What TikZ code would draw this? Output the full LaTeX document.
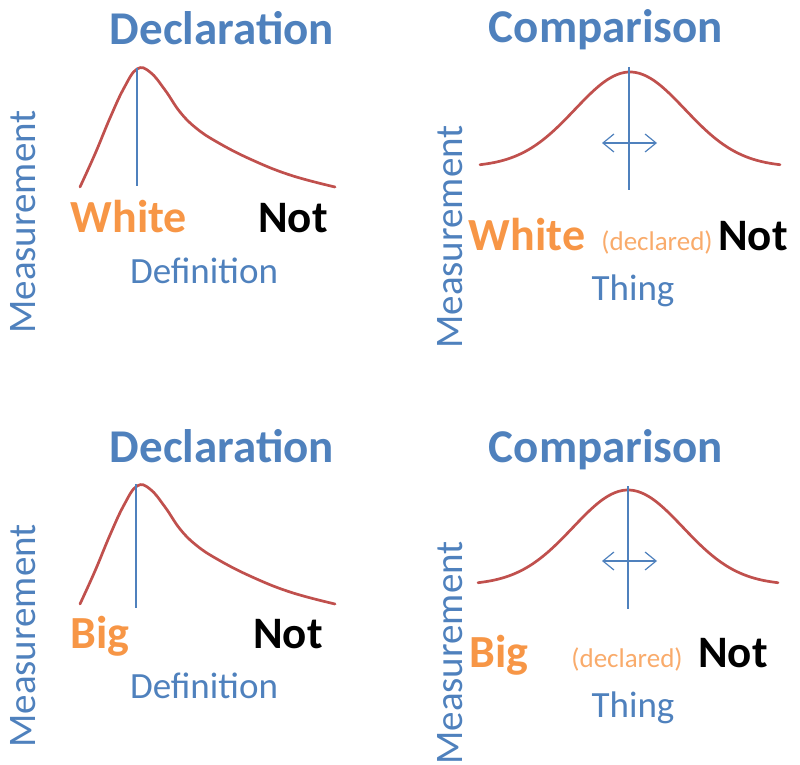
\documentclass[tikz,border=0pt]{standalone}
\usepackage{fontspec}
\setmainfont{Carlito}
\usepackage{tikz}
\usetikzlibrary{arrows.meta,positioning,calc}
\definecolor{ttl}{RGB}{79,129,189}
\definecolor{hue}{RGB}{247,150,70}
\definecolor{crv}{RGB}{192,80,77}
\tikzset{
  title/.style={text=ttl, font=\bfseries\fontsize{47}{50}\selectfont, inner sep=0pt, anchor=base},
  axis/.style={text=ttl, font=\fontsize{39}{42}\selectfont, inner sep=0pt, anchor=base, rotate=90},
  xlbl/.style={text=ttl, font=\fontsize{37}{40}\selectfont, inner sep=0pt, anchor=base},
  poslbl/.style={text=hue, font=\bfseries\fontsize{46}{48}\selectfont, inner sep=0pt, anchor=base},
  neglbl/.style={text=black, font=\bfseries\fontsize{45}{48}\selectfont, inner sep=0pt, anchor=base},
  note/.style={text=hue!80, font=\fontsize{27}{30}\selectfont, inner sep=0pt, anchor=base},
  curve/.style={draw=crv, line width=2.7pt, line join=round, line cap=round},
  vline/.style={draw=ttl, line width=1.1pt},
  spread/.style={draw=ttl, line width=1.2pt, {Straight Barb[length=11pt,width=18pt]}-{Straight Barb[length=11pt,width=18pt]}}
}

\begin{document}
\begin{tikzpicture}[x=1pt, y=-1pt]
    \useasboundingbox (0,0) rectangle (800,765);
    % top left
    \node[title] (t1) at (222,45) {Declaration};
    \draw[curve] plot[smooth, tension=0.7] coordinates {(80,187) (95,154) (110,118) (124,88) (137,69) (150,72) (165,90) (180,112) (196,128) (217,142) (250,159) (290,175) (335,187)};
    \coordinate (p1) at (137,68);
    \coordinate (f1) at (137,186);
    \draw[vline] (p1) -- (f1);
    \node[poslbl] (w1) at (129,232) {White};
    \node[neglbl] (n1) at (293,232) {Not};
    \node[xlbl] (d1) at (204,283) {Definition};
    \node[axis] (m1) at (35,222) {Measurement};
    % top right
    \node[title] (t2) at (606,43) {Comparison};
    \draw[curve] plot[domain=-150:150, samples=80, smooth] (630+\x, {167-95*exp(-0.5*(\x/55)*(\x/55))});
    \coordinate (p2) at (629,67);
    \coordinate (f2) at (629,190);
    \draw[vline] (p2) -- (f2);
    \coordinate (a2) at (602,143);
    \coordinate (b2) at (657,143);
    \draw[spread] (a2) -- (b2);
    \node[poslbl] (w2) at (527,250) {White};
    \node[note] (c2) at (657,250) {(declared)};
    \node[neglbl] (n2) at (753,250) {Not};
    \node[xlbl] (g2) at (633,300) {Thing};
    \node[axis] (m2) at (462,237) {Measurement};
    % bottom left
    \node[title] (t3) at (222,462) {Declaration};
    \draw[curve, yshift=-417pt] plot[smooth, tension=0.7] coordinates {(80,187) (95,154) (110,118) (124,88) (137,69) (150,72) (165,90) (180,112) (196,128) (217,142) (250,159) (290,175) (335,187)};
    \coordinate (p3) at (136,484);
    \coordinate (f3) at (136,608);
    \draw[vline] (p3) -- (f3);
    \node[poslbl] (w3) at (100,648) {Big};
    \node[neglbl] (n3) at (288,648) {Not};
    \node[xlbl] (d3) at (204,698) {Definition};
    \node[axis] (m3) at (35,636) {Measurement};
    % bottom right
    \node[title] (t4) at (606,462) {Comparison};
    \draw[curve] plot[domain=-150:150, samples=80, smooth] (628+\x, {585-95*exp(-0.5*(\x/55)*(\x/55))});
    \coordinate (p4) at (628,486);
    \coordinate (f4) at (628,609);
    \draw[vline] (p4) -- (f4);
    \coordinate (a4) at (602,561);
    \coordinate (b4) at (657,561);
    \draw[spread] (a4) -- (b4);
    \node[poslbl] (w4) at (499,667) {Big};
    \node[note] (c4) at (627,667) {(declared)};
    \node[neglbl] (n4) at (733,667) {Not};
    \node[xlbl] (g4) at (633,717) {Thing};
    \node[axis] (m4) at (462,653) {Measurement};
  \end{tikzpicture}
\end{document}
